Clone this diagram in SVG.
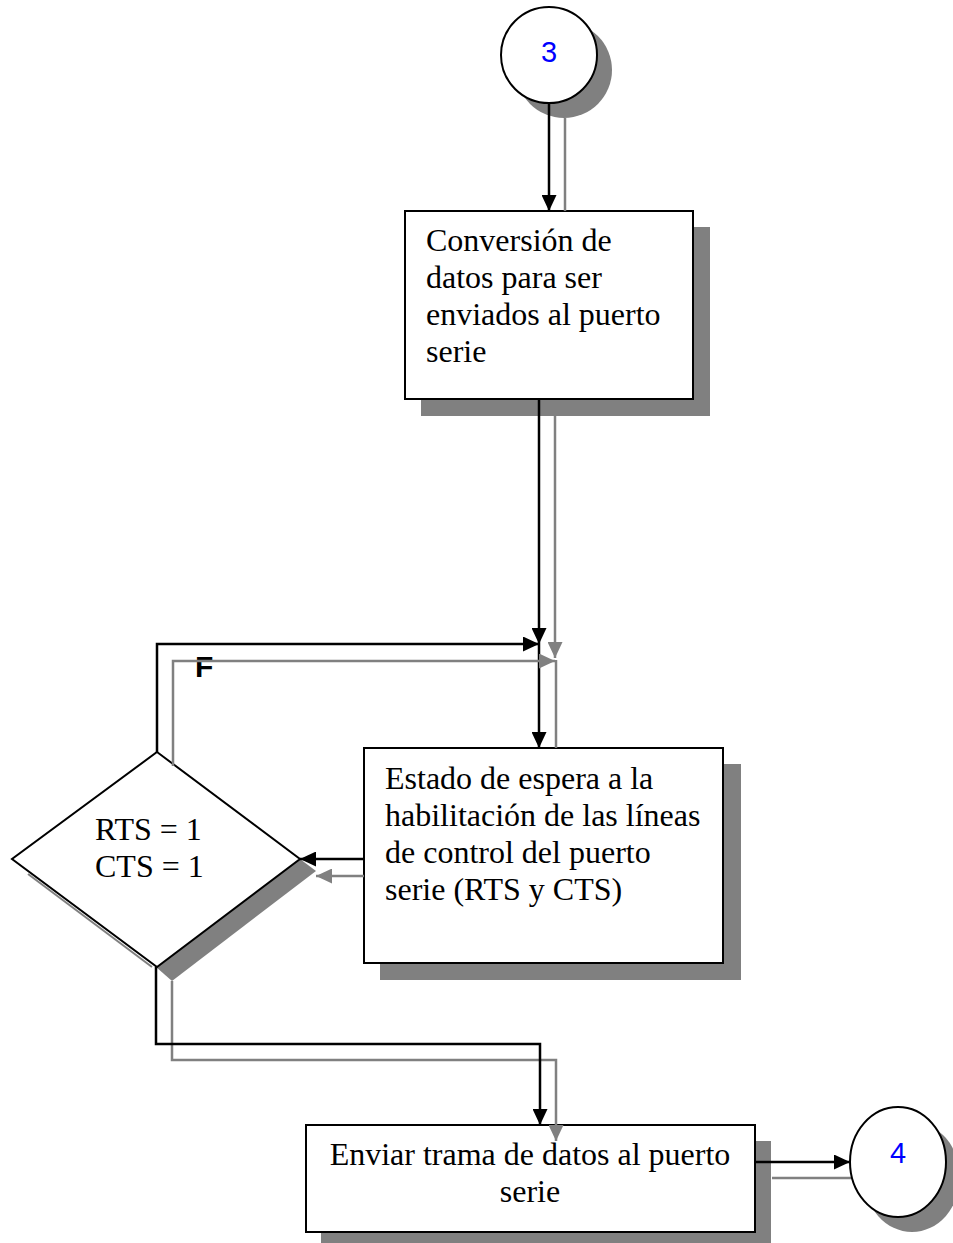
<svg xmlns="http://www.w3.org/2000/svg" width="953" height="1243" viewBox="0 0 953 1243">
<style>
.box{fill:#fff;stroke:#000;stroke-width:2}
.sh{fill:#808080;stroke:none}
.t{font-family:"Liberation Serif","Times New Roman",serif;font-size:32px;fill:#000}
.num{font-family:"Liberation Sans",Arial,sans-serif;font-size:29px;fill:#0000ff}
.k{fill:none;stroke:#000;stroke-width:2.5}
.g{fill:none;stroke:#808080;stroke-width:2.5}
</style>
<defs>
<marker id="ak" viewBox="0 0 16 15" refX="16" refY="7.5" markerWidth="16" markerHeight="15" markerUnits="userSpaceOnUse" orient="auto"><path d="M0,0L16,7.5L0,15z" fill="#000"/></marker>
<marker id="ag" viewBox="0 0 16 15" refX="16" refY="7.5" markerWidth="16" markerHeight="15" markerUnits="userSpaceOnUse" orient="auto"><path d="M0,0L16,7.5L0,15z" fill="#808080"/></marker>
</defs>
<rect width="953" height="1243" fill="#fff"/>
<g id="node-3">
<ellipse class="sh" cx="564" cy="70" rx="48" ry="48"/>
<ellipse class="box" cx="549" cy="55" rx="48" ry="48"/>
<text class="num" x="549" y="62" text-anchor="middle">3</text>
</g>
<g id="node-conversion">
<rect class="sh" x="421" y="227" width="289" height="189"/>
<rect class="box" x="405" y="211" width="288" height="188"/>
<text class="t" x="426" y="251">Conversión de</text>
<text class="t" x="426" y="288">datos para ser</text>
<text class="t" x="426" y="325">enviados al puerto</text>
<text class="t" x="426" y="362">serie</text>
</g>
<g id="node-espera">
<rect class="sh" x="380" y="764" width="361" height="216"/>
<rect class="box" x="364" y="748" width="359" height="215"/>
<text class="t" x="385" y="789">Estado de espera a la</text>
<text class="t" x="385" y="826">habilitación de las líneas</text>
<text class="t" x="385" y="863">de control del puerto</text>
<text class="t" x="385" y="900">serie (RTS y CTS)</text>
</g>
<g id="node-decision">
<polygon class="sh" points="300,859 316,871 172,981 156,967"/>
<line x1="28" y1="874" x2="152" y2="967" stroke="#808080" stroke-width="2"/>
<polygon class="box" points="157,752 300,859 157,967 12,859"/>
<text class="t" x="95" y="840">RTS = 1</text>
<text class="t" x="95" y="877">CTS = 1</text>
</g>
<g id="label-F">
<text x="195" y="677" font-family="'Liberation Sans',Arial,sans-serif" font-size="30" font-weight="bold" fill="#000">F</text>
</g>
<g id="node-enviar">
<rect class="sh" x="321" y="1141" width="450" height="102"/>
<rect class="box" x="306" y="1125" width="449" height="107"/>
<text class="t" x="530" y="1165" text-anchor="middle">Enviar trama de datos al puerto</text>
<text class="t" x="530" y="1202" text-anchor="middle">serie</text>
</g>
<g id="connectors">
<polyline class="g" points="565,118 565,211"/>
<polyline class="k" points="549,103 549,211" marker-end="url(#ak)"/>
<polyline class="g" points="555,416 555,658" marker-end="url(#ag)"/>
<polyline class="g" points="556,660 556,748"/>
<polyline class="k" points="539,400 539,644" marker-end="url(#ak)"/>
<polyline class="k" points="539,644 539,748" marker-end="url(#ak)"/>
<polyline class="g" points="173,766 173,661 555,661" marker-end="url(#ag)"/>
<polyline class="k" points="157,752 157,644 539,644" marker-end="url(#ak)"/>
<polyline class="g" points="364,876 316,876" marker-end="url(#ag)"/>
<polyline class="k" points="364,859 300,859" marker-end="url(#ak)"/>
<polyline class="g" points="172,981 172,1060 556,1060 556,1141" marker-end="url(#ag)"/>
<polyline class="k" points="156,967 156,1044 540,1044 540,1125" marker-end="url(#ak)"/>
<polyline class="g" points="772,1178 852,1178"/>
<polyline class="k" points="756,1162 850,1162" marker-end="url(#ak)"/>
</g>
<g id="node-4">
<ellipse class="sh" cx="912" cy="1177" rx="48" ry="55"/>
<ellipse class="box" cx="898" cy="1162" rx="48" ry="55"/>
<text class="num" x="898" y="1163" text-anchor="middle">4</text>
</g>
</svg>
